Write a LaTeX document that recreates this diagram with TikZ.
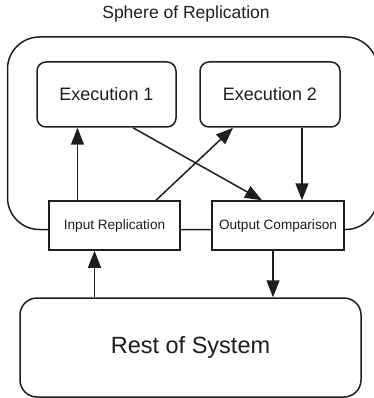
\documentclass[tikz,border=0pt]{standalone}
\usepackage{fontspec}
\setmainfont{Liberation Sans}
\usetikzlibrary{arrows.meta}
\definecolor{ln}{HTML}{1e1e1e}
\begin{document}
\begin{tikzpicture}[x=1pt,y=-1pt,
  box/.style={draw=ln,line width=1.5pt,fill=white,inner sep=0pt,text=ln},
  arr/.style={draw=ln,line width=1.5pt,-{Triangle[length=17pt,width=13pt]}}]
\useasboundingbox (0,0) rectangle (373,398);
\node[text=ln,font=\fontsize{17.5}{20}\selectfont] (title) at (186,14) {Sphere of Replication};
\node[box,fill=none,rounded corners=32pt,minimum width=370pt,minimum height=192.5pt] (sphere) at (192.5,133.25) {};
\node[box,rounded corners=9pt,minimum width=139pt,minimum height=65pt,font=\fontsize{18}{21}\selectfont] (e1) at (106.5,94.5) {Execution 1};
\node[box,rounded corners=9pt,minimum width=140pt,minimum height=65pt,font=\fontsize{18}{21}\selectfont] (e2) at (270,94.5) {Execution 2};
\node[box,minimum width=131pt,minimum height=49pt,font=\fontsize{13.6}{16}\selectfont] (ir) at (114.5,225.5) {Input Replication};
\node[box,minimum width=132pt,minimum height=49pt,font=\fontsize{13.6}{16}\selectfont] (oc) at (278,225.5) {\raisebox{2pt}{Output Comparison}};
\node[box,rounded corners=17pt,minimum width=341pt,minimum height=99pt,font=\fontsize{23.5}{27}\selectfont] (ros) at (190.5,347.5) {Rest of System};
\coordinate (a1) at ([xshift=-37pt]ir.north);
\coordinate (a2s) at ([xshift=41.5pt]ir.north);
\coordinate (a2e) at ([xshift=-37pt]e2.south);
\coordinate (a3s) at ([xshift=26.5pt]e1.south);
\coordinate (a3e) at ([xshift=-16pt]oc.north);
\coordinate (a4) at ([xshift=32pt]e2.south);
\coordinate (a5) at ([xshift=-5pt]oc.south);
\coordinate (a6) at ([xshift=-96pt]ros.north);
\draw[arr] (a1) -- (a1 |- e1.south);
\draw[arr] (a2s) -- (a2e);
\draw[arr] (a3s) -- (a3e);
\draw[arr] (a4) -- (a4 |- oc.north);
\draw[arr] (a5) -- (a5 |- ros.north);
\draw[arr] (a6) -- (a6 |- ir.south);
\end{tikzpicture}
\end{document}
